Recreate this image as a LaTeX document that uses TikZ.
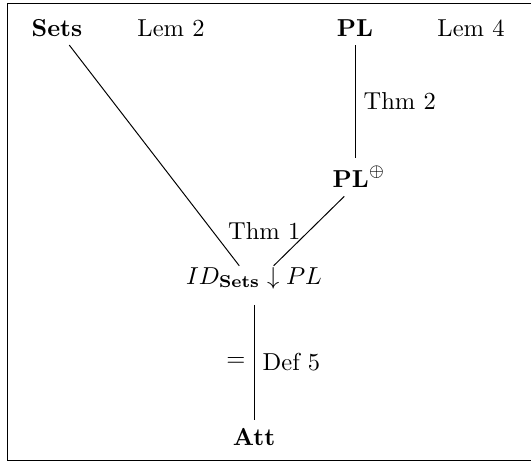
\documentclass[tikz,border=0pt]{standalone}
\usepackage{amsmath}
\begin{document}
\begin{tikzpicture}[x=0.408pt,y=-0.408pt]
    % Page and frame
    \useasboundingbox (0,0) rectangle (531,462);
    \draw[thin] (7,3) rectangle (535,460);

    % Objects
    \node (sets) at (57,28) {$\mathbf{Sets}$};
    \node (lem2) at (171,28) {Lem 2};
    \node (pl) at (355,28) {$\mathbf{PL}$};
    \node (lem4) at (471,28) {Lem 4};
    \node (plplus) at (359,177) {$\mathbf{PL}^{\oplus}$};
    \node (id) at (254,278) {$ID_{\mathbf{Sets}}\downarrow PL$};
    \node (att) at (254,437) {$\mathbf{Att}$};

    % Connections
    \draw ([xshift=5pt]sets.south) -- ([shift={(-6pt,-3pt)}]id.north);
    \draw (pl.south) -- node[right] {Thm 2} (pl.south |- plplus.north);
    \draw ([xshift=-6pt]plplus.south) -- node[pos=0.5,left] {Thm 1} ([shift={(8pt,-3pt)}]id.north);
    \draw ([yshift=-3pt]id.south) -- node[left] {$=$} node[right] {Def 5} (att);

  \end{tikzpicture}
\end{document}
